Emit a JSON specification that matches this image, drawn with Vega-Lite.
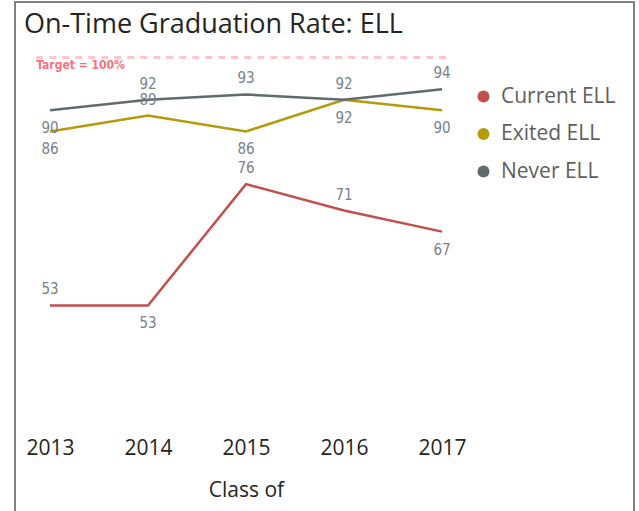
{
  "$schema": "https://vega.github.io/schema/vega-lite/v6.json",
  "autosize": {"type": "none"},
  "padding": {"left": 15, "top": 2, "right": 5, "bottom": 0},
  "width": 619,
  "height": 515,
  "title": {
    "text": "On-Time Graduation Rate: ELL",
    "anchor": "start",
    "frame": "group",
    "offset": -33,
    "dx": 9,
    "dy": 25,
    "baseline": "alphabetic",
    "fontSize": 27,
    "font": "Open Sans",
    "fontWeight": "normal",
    "color": "#252423"
  },
  "datasets": {
    "grad": [
      {"year": 2013, "series": "Current ELL", "rate": 53},
      {"year": 2014, "series": "Current ELL", "rate": 53},
      {"year": 2015, "series": "Current ELL", "rate": 76},
      {"year": 2016, "series": "Current ELL", "rate": 71},
      {"year": 2017, "series": "Current ELL", "rate": 67},
      {"year": 2013, "series": "Exited ELL", "rate": 86},
      {"year": 2014, "series": "Exited ELL", "rate": 89},
      {"year": 2015, "series": "Exited ELL", "rate": 86},
      {"year": 2016, "series": "Exited ELL", "rate": 92},
      {"year": 2017, "series": "Exited ELL", "rate": 90},
      {"year": 2013, "series": "Never ELL", "rate": 90},
      {"year": 2014, "series": "Never ELL", "rate": 92},
      {"year": 2015, "series": "Never ELL", "rate": 93},
      {"year": 2016, "series": "Never ELL", "rate": 92},
      {"year": 2017, "series": "Never ELL", "rate": 94}
    ],
    "target": [{"target": 100, "label": "Target = 100%"}]
  },
  "data": {"name": "grad"},
  "layer": [
    {
      "data": {"name": "target"},
      "mark": {"type": "rule", "color": "#FFC7CD", "strokeWidth": 3, "strokeDash": [7, 6]},
      "encoding": {
        "y": {"field": "target", "type": "quantitative", "scale": {"domain": [12.9, 110.53], "nice": false, "zero": false}, "axis": null},
        "x": {"datum": 2012.86, "type": "quantitative"},
        "x2": {"datum": 2017.09}
      }
    },
    {
      "data": {"name": "target"},
      "mark": {"type": "text", "align": "left", "baseline": "top", "dy": 2, "font": "DejaVu Sans Condensed", "fontWeight": "bold", "fontSize": 12, "color": "#F7707E"},
      "encoding": {
        "y": {"field": "target", "type": "quantitative"},
        "x": {"datum": 2012.86, "type": "quantitative"},
        "text": {"field": "label"}
      }
    },
    {
      "mark": {"type": "line", "strokeWidth": 2.5},
      "encoding": {
        "x": {
          "field": "year", "type": "quantitative",
          "scale": {"domain": [2012.643, 2018.959], "nice": false, "zero": false},
          "axis": {
            "orient": "bottom", "offset": -82, "values": [2013, 2014, 2015, 2016, 2017], "format": "d",
            "domain": false, "ticks": false, "grid": false, "labelPadding": 2,
            "labelFont": "Open Sans", "labelFontSize": 21, "labelColor": "#252423",
            "title": "Class of", "titleFont": "Open Sans", "titleFontSize": 21, "titleFontWeight": "normal",
            "titleColor": "#252423", "titleX": 231, "titleY": 61, "titleAlign": "center", "titleBaseline": "alphabetic"
          }
        },
        "y": {"field": "rate", "type": "quantitative"},
        "color": {
          "field": "series", "type": "nominal",
          "scale": {"domain": ["Current ELL", "Exited ELL", "Never ELL"], "range": ["#C0504D", "#B59A0A", "#5F6B6D"]},
          "legend": {
            "title": null, "orient": "none", "legendX": 458, "legendY": 84, "padding": 0,
            "symbolType": "circle", "symbolSize": 144, "symbolStrokeWidth": 0,
            "labelFont": "Open Sans", "labelFontSize": 21, "labelColor": "#605E5C", "labelOffset": 7,
            "rowPadding": 15.5,
            "encode": {"symbols": {"update": {"fill": {"scale": "color", "field": "value"}, "fillOpacity": {"value": 1}, "strokeWidth": {"value": 0}}}}
          }
        }
      }
    },
    {
      "transform": [{"filter": "(datum.series == 'Never ELL' && datum.year != 2013) || (datum.series == 'Exited ELL' && datum.year == 2014) || (datum.series == 'Current ELL' && (datum.year == 2013 || datum.year == 2015 || datum.year == 2016))"}],
      "mark": {"type": "text", "baseline": "middle", "dy": -16, "font": "DejaVu Sans Condensed", "fontSize": 15, "color": "#78818A"},
      "encoding": {
        "x": {"field": "year", "type": "quantitative"},
        "y": {"field": "rate", "type": "quantitative"},
        "text": {"field": "rate", "type": "quantitative"}
      }
    },
    {
      "transform": [{"filter": "!((datum.series == 'Never ELL' && datum.year != 2013) || (datum.series == 'Exited ELL' && datum.year == 2014) || (datum.series == 'Current ELL' && (datum.year == 2013 || datum.year == 2015 || datum.year == 2016)))"}],
      "mark": {"type": "text", "baseline": "middle", "dy": 18, "font": "DejaVu Sans Condensed", "fontSize": 15, "color": "#78818A"},
      "encoding": {
        "x": {"field": "year", "type": "quantitative"},
        "y": {"field": "rate", "type": "quantitative"},
        "text": {"field": "rate", "type": "quantitative"}
      }
    }
  ],
  "config": {
    "view": {"stroke": "#5A5A5A", "strokeWidth": 1.5},
    "background": "white"
  }
}
